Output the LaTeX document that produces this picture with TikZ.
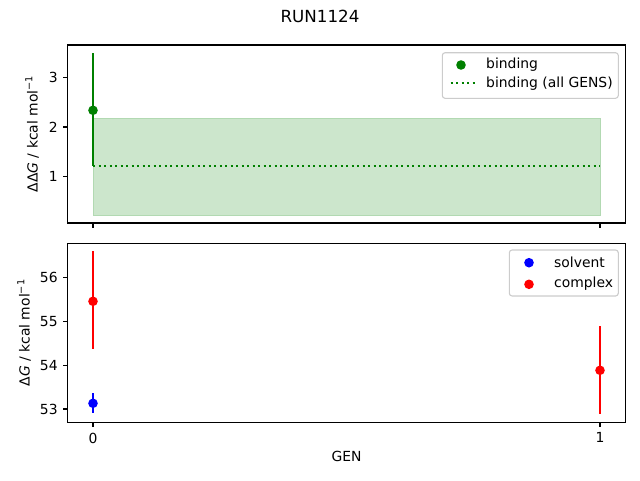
\documentclass[tikz,border=0pt]{standalone}
\usepackage{fontspec}
\setmainfont{DejaVu Sans}
\begin{document}
\begin{tikzpicture}[x=1pt,y=-1pt,
  lbl/.style={inner sep=0pt,font=\fontsize{13.9}{16}\selectfont},
  spine/.style={line width=1.1pt,black},
  tick/.style={line width=1.1pt,black},
  ebar/.style={line width=2.08pt},
  dot/.style={circle,inner sep=0pt,minimum size=9.6pt},
  legbox/.style={draw=black!20,fill=white,fill opacity=0.8,line width=1.1pt,rounded corners=2.8pt}]
\useasboundingbox (0,0) rectangle (640,480);
\definecolor{mgreen}{RGB}{0,128,0}
\definecolor{mblue}{RGB}{0,0,255}
\definecolor{mred}{RGB}{255,0,0}
\definecolor{band}{RGB}{204,230,204}
\definecolor{bandedge}{RGB}{178,217,178}
% title
\node[lbl,font=\fontsize{16.7}{19}\selectfont] (title) at (320,16) {RUN1124};
% ---------- top panel ----------
\fill[band,draw=bandedge,line width=1pt] (93,118.3) rectangle (600,215);
\coordinate (dl0) at (93,166.3);
\coordinate (dl1) at (600,166.3);
\draw[mgreen,line width=2.08pt,dash pattern=on 2.1pt off 3.4pt] (dl0) -- (dl1);
\coordinate (e1t) at (93,53.3);
\coordinate (e1b) at (93,166.3);
\draw[ebar,mgreen] (e1t) -- (e1b);
\node[dot,fill=mgreen] (p1) at (93,110.3) {};
\draw[spine] (67.65,45) rectangle (625.35,223);
% y ticks top
\foreach \v/\y in {1/176.5,2/127,3/77.5}{
  \draw[tick] (67.65,\y) -- ++(-4.9,0);
  \node[lbl,anchor=east] (ty\v) at (57.8,\y) {\v};
}
\draw[tick] (93,223) -- ++(0,4.9);
\draw[tick] (600,223) -- ++(0,4.9);
\node[lbl,rotate=90] (ylab1) at (32,134) {ΔΔ\textit{G} / kcal mol\textsuperscript{−1}};
% legend top
\draw[legbox] (442.3,52.7) rectangle (618.3,98.3);
\node[dot,fill=mgreen] (lg1) at (461,65) {};
\node[lbl,anchor=west] (lgt1) at (486,64.5) {binding};
\coordinate (lgl0) at (450.5,83.3);
\coordinate (lgl1) at (475,83.3);
\draw[mgreen,line width=2.08pt,dash pattern=on 2.1pt off 3.4pt] (lgl0) -- (lgl1);
\node[lbl,anchor=west] (lgt2) at (486,84) {binding (all GENS)};
% ---------- bottom panel ----------
\coordinate (e2t) at (93,251);
\coordinate (e2b) at (93,349.3);
\draw[ebar,mred] (e2t) -- (e2b);
\node[dot,fill=mred] (p2) at (93,301.3) {};
\coordinate (e3t) at (93,393.3);
\coordinate (e3b) at (93,413.3);
\draw[ebar,mblue] (e3t) -- (e3b);
\node[dot,fill=mblue] (p3) at (93,403.3) {};
\coordinate (e4t) at (600,326);
\coordinate (e4b) at (600,413.7);
\draw[ebar,mred] (e4t) -- (e4b);
\node[dot,fill=mred] (p4) at (600,370.3) {};
\draw[spine] (67.65,243.3) rectangle (625.35,422.3);
\foreach \v/\y in {53/409,54/365.3,55/321.3,56/277.3}{
  \draw[tick] (67.65,\y) -- ++(-4.9,0);
  \node[lbl,anchor=east] (by\v) at (57.8,\y) {\v};
}
\draw[tick] (93,422.3) -- ++(0,4.9);
\draw[tick] (600,422.3) -- ++(0,4.9);
\node[lbl,anchor=north] (bx0) at (93,432.5) {0};
\node[lbl,anchor=north] (bx1) at (600,432.5) {1};
\node[lbl,anchor=north] (xlab) at (346.5,451) {GEN};
\node[lbl,rotate=90] (ylab2) at (24,332.8) {Δ\textit{G} / kcal mol\textsuperscript{−1}};
% legend bottom
\draw[legbox] (509.3,250) rectangle (618.3,296);
\node[dot,fill=mblue] (lg2) at (529,262.7) {};
\node[lbl,anchor=west] (lgt3) at (554,262.3) {solvent};
\node[dot,fill=mred] (lg3) at (529,284.3) {};
\node[lbl,anchor=west] (lgt4) at (554,284) {complex};
\end{tikzpicture}
\end{document}
